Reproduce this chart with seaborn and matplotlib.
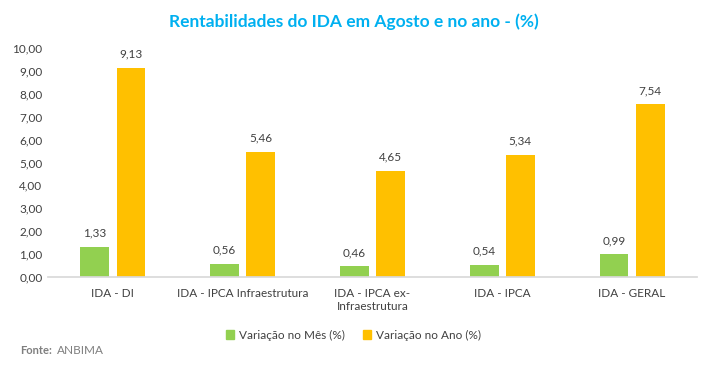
import matplotlib
matplotlib.use("Agg")
import matplotlib.pyplot as plt
import seaborn as sns
import pandas as pd

categories = ["IDA - DI", "IDA - IPCA Infraestrutura", "IDA - IPCA ex-\nInfraestrutura", "IDA - IPCA", "IDA - GERAL"]
mes = [1.33, 0.56, 0.46, 0.54, 0.99]
ano = [9.13, 5.46, 4.65, 5.34, 7.54]
series = ["Variação no Mês (%)", "Variação no Ano (%)"]
yticks = [0, 1, 2, 3, 4, 5, 6, 7, 8, 9, 10]

sns.set_theme(style="white")
plt.rcParams['font.family'] = ['Lato', 'DejaVu Sans']

df = pd.DataFrame({
    "cat": categories * 2,
    "val": mes + ano,
    "serie": [series[0]] * len(categories) + [series[1]] * len(categories),
})

fig = plt.figure(figsize=(7.07, 3.68), dpi=100)
ax = fig.add_axes([48/707, 91/368, 649/707, 229/368])
sns.barplot(data=df, x="cat", y="val", hue="serie", palette=["#92D050", "#FFC000"],
            width=0.556, gap=0.2, saturation=1, linewidth=0, ax=ax, legend=False)

for cont in ax.containers:
    ax.bar_label(cont, labels=[f"{v:.2f}".replace(".", ",") for v in cont.datavalues],
                 padding=6, fontsize=8.5, color="#404040")

ax.set_ylim(0, 10)
ax.set_xlim(-0.5, len(categories) - 0.5)
ax.set_yticks(yticks)
ax.set_yticklabels([f"{t:.2f}".replace(".", ",") for t in yticks], fontsize=8.5, color="#404040")
ax.tick_params(axis="x", labelsize=8.5, colors="#404040", length=0, pad=8)
ax.tick_params(axis="y", length=0, pad=4)
ax.set_xlabel("")
ax.set_ylabel("")
for s in ["top", "right", "left"]:
    ax.spines[s].set_visible(False)
ax.spines["bottom"].set_color("#D9D9D9")
ax.grid(False)

fig.text(0.5, 1 - 22/368, "Rentabilidades do IDA em Agosto e no ano - (%)", ha="center", va="center",
         fontsize=12.5, fontweight="bold", color="#00B0F0")

from matplotlib.patches import Patch
handles = [Patch(color="#92D050"), Patch(color="#FFC000")]
fig.legend(handles, series, loc="center", bbox_to_anchor=(0.5, 1 - 335/368), ncol=2, frameon=False,
           fontsize=8.5, handlelength=0.7, handleheight=0.7, columnspacing=1.5, handletextpad=0.4,
           labelcolor="#404040")

fig.text(20/707, 1 - 351/368, "Fonte:", fontsize=8, fontweight="bold", color="#7F7F7F", va="center")
fig.text(57/707, 1 - 351/368, "ANBIMA", fontsize=8.5, color="#7F7F7F", va="center")

fig.savefig("out.png", dpi=100)
